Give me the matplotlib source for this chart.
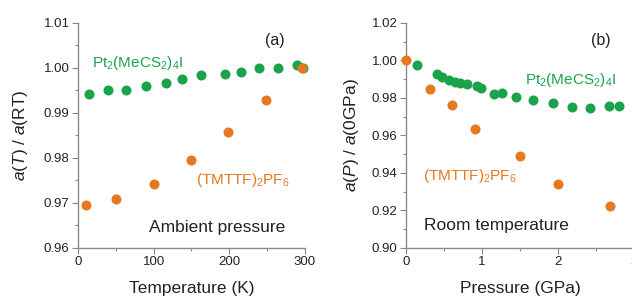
import matplotlib
matplotlib.use("Agg")
from matplotlib import pyplot as plt
from matplotlib.ticker import MultipleLocator

plt.rcParams['font.family'] = ['Liberation Sans', 'DejaVu Sans']
plt.rcParams['mathtext.fontset'] = 'custom'
plt.rcParams['mathtext.rm'] = 'Liberation Sans'
plt.rcParams['mathtext.it'] = 'Liberation Sans:italic'

green = '#1aa34a'
orange = '#e6781e'

# (a) temperature dependence, ambient pressure
temp_pt = [15, 40, 64, 90, 116, 138, 163, 195, 215, 239, 265, 289, 298]
val_pt_T = [0.9943, 0.9952, 0.9951, 0.9960, 0.9967, 0.9975, 0.9984, 0.9986,
            0.9991, 0.9999, 1.0000, 1.0006, 1.0000]
temp_tm = [10, 50, 100, 149, 199, 249, 296]
val_tm_T = [0.9695, 0.9709, 0.9743, 0.9795, 0.9858, 0.9928, 1.0000]

# (b) pressure dependence, room temperature
pres_pt = [0.14, 0.41, 0.47, 0.57, 0.64, 0.71, 0.80, 0.93, 0.99, 1.16, 1.26,
           1.45, 1.67, 1.93, 2.18, 2.42, 2.66, 2.80]
val_pt_P = [0.9975, 0.9927, 0.9913, 0.9895, 0.9886, 0.9881, 0.9872, 0.9863,
            0.9851, 0.9821, 0.9829, 0.9803, 0.9789, 0.9775, 0.9753, 0.9744,
            0.9759, 0.9757]
pres_tm = [0.0, 0.31, 0.60, 0.91, 1.49, 1.99, 2.68]
val_tm_P = [1.0000, 0.9847, 0.9762, 0.9633, 0.9491, 0.9342, 0.9222]

fig = plt.figure(figsize=(6.32, 2.97), dpi=100)
ax1 = fig.add_axes([0.1234, 0.165, 0.359, 0.7576])
ax2 = fig.add_axes([0.6424, 0.165, 0.3617, 0.7576])

def style(ax):
    for s in ['top', 'right']:
        ax.spines[s].set_visible(False)
    for s in ['left', 'bottom']:
        ax.spines[s].set_color('#8a8a8a')
        ax.spines[s].set_linewidth(1.0)
    ax.tick_params(which='both', direction='out', color='#8a8a8a',
                   labelsize=9.5, labelcolor='#222222', width=0.8)
    ax.tick_params(which='major', length=4, pad=2)
    ax.tick_params(which='minor', length=2.5)

ms = 52
ax1.scatter(temp_pt, val_pt_T, s=ms, color=green, clip_on=False, zorder=3, lw=0)
ax1.scatter(temp_tm, val_tm_T, s=ms, color=orange, clip_on=False, zorder=4, lw=0)
ax1.set_xlim(0, 300)
ax1.set_ylim(0.96, 1.01)
ax1.xaxis.set_major_locator(MultipleLocator(100))
ax1.xaxis.set_minor_locator(MultipleLocator(50))
ax1.yaxis.set_major_locator(MultipleLocator(0.01))
ax1.yaxis.set_minor_locator(MultipleLocator(0.005))
ax1.yaxis.set_major_formatter(lambda v, p: f"{v:.2f}")
style(ax1)
ax1.set_xlabel("Temperature (K)", fontsize=12.5, color='#222222', labelpad=9)
ax1.set_ylabel("$a$($T$) / $a$(RT)", fontsize=12.5, color='#222222', labelpad=10)
ax1.text(0.911, 0.92, "(a)", transform=ax1.transAxes, fontsize=11.5,
         ha='right', va='center', color='#222222')
ax1.text(0.06, 0.82, r"$\mathregular{Pt_2(MeCS_2)_4I}$", transform=ax1.transAxes,
         fontsize=11, color=green, ha='left', va='center')
ax1.text(0.934, 0.30, r"$\mathregular{(TMTTF)_2PF_6}$", transform=ax1.transAxes,
         fontsize=11, color=orange, ha='right', va='center')
ax1.text(0.915, 0.093, "Ambient pressure", transform=ax1.transAxes, fontsize=12.5,
         ha='right', va='center', color='#222222')

ax2.scatter(pres_pt, val_pt_P, s=ms, color=green, clip_on=False, zorder=3, lw=0)
ax2.scatter(pres_tm, val_tm_P, s=ms, color=orange, clip_on=False, zorder=4, lw=0)
ax2.set_xlim(0, 3)
ax2.set_ylim(0.90, 1.02)
ax2.xaxis.set_major_locator(MultipleLocator(1))
ax2.xaxis.set_minor_locator(MultipleLocator(0.5))
ax2.yaxis.set_major_locator(MultipleLocator(0.02))
ax2.yaxis.set_minor_locator(MultipleLocator(0.01))
ax2.yaxis.set_major_formatter(lambda v, p: f"{v:.2f}")
style(ax2)
ax2.set_xlabel("Pressure (GPa)", fontsize=12.5, color='#222222', labelpad=9)
ax2.set_ylabel("$a$($P$) / $a$(0GPa)", fontsize=12.5, color='#222222', labelpad=8)
ax2.text(0.897, 0.92, "(b)", transform=ax2.transAxes, fontsize=11.5,
         ha='right', va='center', color='#222222')
ax2.text(0.92, 0.745, r"$\mathregular{Pt_2(MeCS_2)_4I}$", transform=ax2.transAxes,
         fontsize=11, color=green, ha='right', va='center')
ax2.text(0.075, 0.32, r"$\mathregular{(TMTTF)_2PF_6}$", transform=ax2.transAxes,
         fontsize=11, color=orange, ha='left', va='center')
ax2.text(0.08, 0.10, "Room temperature", transform=ax2.transAxes, fontsize=12.5,
         ha='left', va='center', color='#222222')

fig.savefig("out.png", dpi=100)
